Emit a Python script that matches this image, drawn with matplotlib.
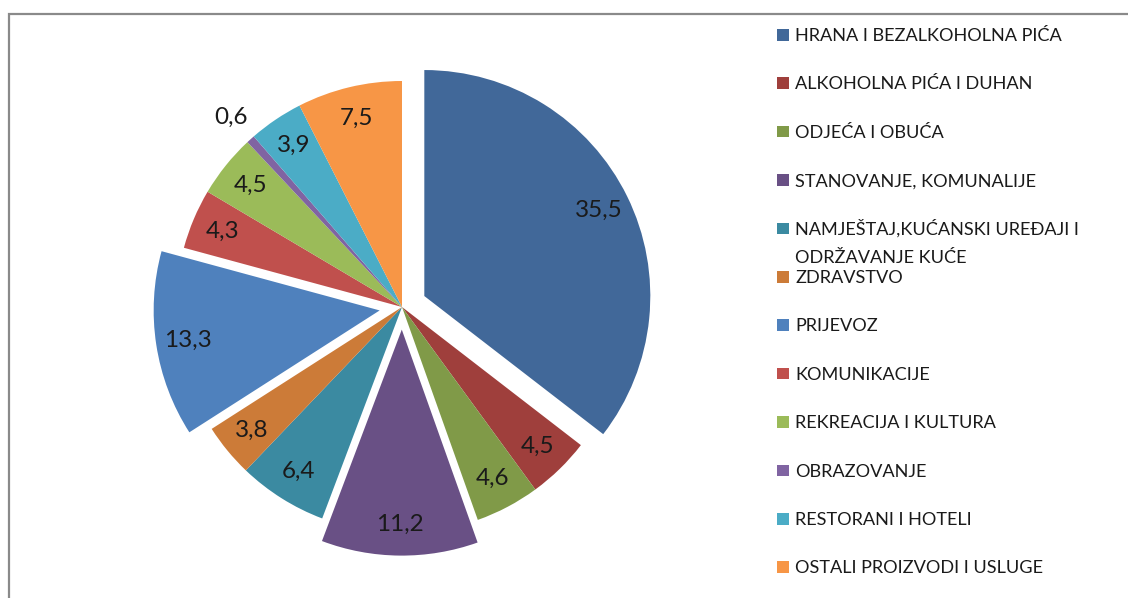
import matplotlib
matplotlib.use('Agg')
from matplotlib import pyplot as plt
from matplotlib.patches import Rectangle
import numpy as np

plt.rcParams['font.family'] = ['Lato', 'DejaVu Sans']

# ------------------------------ #

categories = ['HRANA I BEZALKOHOLNA PIĆA', 'ALKOHOLNA PIĆA I DUHAN', 'ODJEĆA I OBUĆA',
              'STANOVANJE, KOMUNALIJE', 'NAMJEŠTAJ,KUĆANSKI UREĐAJI I\nODRŽAVANJE KUĆE',
              'ZDRAVSTVO', 'PRIJEVOZ', 'KOMUNIKACIJE', 'REKREACIJA I KULTURA',
              'OBRAZOVANJE', 'RESTORANI I HOTELI', 'OSTALI PROIZVODI I USLUGE']
values = [35.5, 4.5, 4.6, 11.2, 6.4, 3.8, 13.3, 4.3, 4.5, 0.6, 3.9, 7.5]
value_labels = ['35,5', '4,5', '4,6', '11,2', '6,4', '3,8', '13,3', '4,3', '4,5', '0,6', '3,9', '7,5']
exploded = [0.11, 0, 0, 0.1, 0, 0, 0.1, 0, 0, 0, 0, 0]
colors = ['#416899', '#9F3F3C', '#809A48', '#695085', '#3B8AA1', '#CC7B38',
          '#4F81BD', '#C0504D', '#9BBB59', '#8064A2', '#4BACC6', '#F79646']

W, H = 1128, 598
fig = plt.figure(figsize=(W / 100, H / 100), dpi=100)

# pie centre / radius in pixels
cx, cy, R = 402, 307, 226
lim = 1.3
side = 2 * R * lim
ax = fig.add_axes([(cx - side / 2) / W, (H - cy - side / 2) / H, side / W, side / H])

wedges, texts = ax.pie(values, labels=value_labels, colors=colors, explode=exploded,
                       startangle=90, counterclock=False, labeldistance=0.86,
                       wedgeprops=dict(linewidth=0),
                       textprops=dict(fontsize=17.5, color='#1a1a1a'))
for w, t in zip(wedges, texts):
    t.set_ha('center')
    t.set_va('center')
# tiny slice label goes outside
small = values.index(0.6)
ang = np.deg2rad((wedges[small].theta1 + wedges[small].theta2) / 2)
texts[small].set_position((1.13 * np.cos(ang), 1.13 * np.sin(ang)))

ax.set_xlim(-lim, lim)
ax.set_ylim(-lim, lim)
ax.set_aspect('equal')
ax.axis('off')

# legend, laid out like the excel one (wrapped label doesn't push the next row)
row0, step, line_gap = 35, 48.4, 28
for i, (lab, col) in enumerate(zip(categories, colors)):
    yc = row0 + i * step
    fig.add_artist(Rectangle((777 / W, (H - yc - 5.5) / H), 11.5 / W, 11.5 / H,
                             transform=fig.transFigure, facecolor=col, edgecolor='none'))
    for j, line in enumerate(lab.split('\n')):
        fig.text(795 / W, (H - yc - 6 - j * line_gap) / H, line, fontsize=13.1,
                 color='#1a1a1a', va='baseline', ha='left')

# chart area border (runs off the image right and bottom)
fig.add_artist(Rectangle((8.5 / W, -0.1), 1.2, (H - 13.5) / H + 0.1, transform=fig.transFigure,
                         facecolor='none', edgecolor='#8a8a8a', linewidth=1.6, clip_on=False))

fig.savefig('out.png', dpi=100)
